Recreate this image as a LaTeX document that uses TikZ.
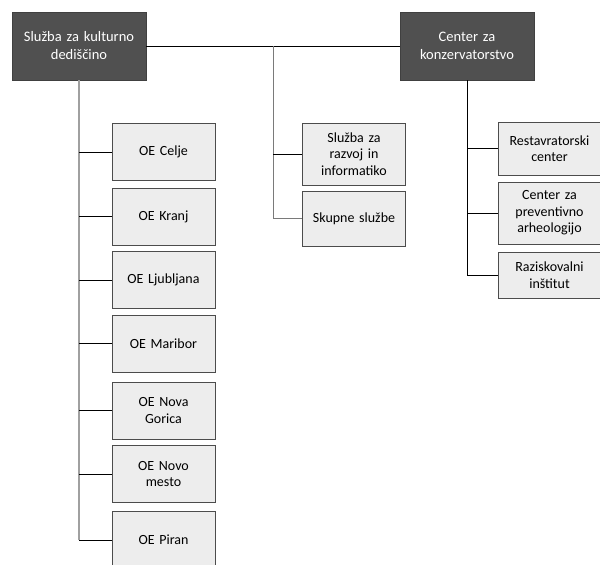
\documentclass[tikz,border=0pt]{standalone}
\usepackage{fontspec}
\setmainfont{Carlito}
\usepackage{xcolor}
\usepackage{tikz}
\usetikzlibrary{positioning,calc}
\definecolor{headfill}{HTML}{505050}
\definecolor{unitfill}{HTML}{EDEDED}
\definecolor{trunkgray}{HTML}{A0A0A0}
\definecolor{midgray}{HTML}{7A7A7A}

\begin{document}
\begin{tikzpicture}[x=1pt, y=-1pt,
    head/.style={draw=black!75, fill=headfill, text=white, text width=128pt, minimum height=68pt, inner sep=3pt, align=center, font=\fontsize{14.5}{18}\selectfont},
    unit/.style={draw=black!70, fill=unitfill, text width=97pt, minimum height=57pt, inner sep=3pt, align=center, font=\fontsize{14}{16.5}\selectfont},
    link/.style={line width=0.8pt, draw=black},
    trunk/.style={line width=1.2pt, draw=trunkgray}]
    \useasboundingbox (0,0) rectangle (600,565);

    % Heads
    \node [head] (skd) at (79,46) {Služba za kulturno\\dediščino};
    \node [head] (ck) at (467,46) {Center za\\konzervatorstvo};
    \coordinate (mid) at (273,46);

    % Regional units
    \node [unit] (celje) at (163.5,152) {OE Celje};
    \node [unit] (kranj) at (163.5,216.5) {OE Kranj};
    \node [unit] (ljubljana) at (163.5,280) {OE Ljubljana};
    \node [unit] (maribor) at (163.5,343.5) {OE Maribor};
    \node [unit] (novagorica) at (163.5,410.5) {OE Nova\\Gorica};
    \node [unit] (novomesto) at (163.5,474) {OE Novo\\mesto};
    \node [unit] (piran) at (163.5,540) {OE Piran};

    % Common services
    \node [unit, minimum height=62pt] (razvoj) at (354,154) {Služba za\\razvoj in\\informatiko};
    \node [unit, minimum height=55pt] (skupne) at (354,218.5) {Skupne službe};

    % Conservation centre
    \node [unit, minimum height=53pt] (restavr) at (549.5,148.5) {Restavratorski\\center};
    \node [unit, minimum height=62pt] (arheo) at (549.5,213) {Center za\\preventivno\\arheologijo};
    \node [unit, minimum height=46pt] (raziskov) at (549.5,275) {Raziskovalni\\inštitut};

    \draw [link] (skd.east) -- (ck.west);

    \draw [trunk] (skd.south) -- (skd.south |- piran.west);
    \foreach \n in {celje,kranj,ljubljana,maribor,novagorica,novomesto,piran}
        \draw [link] (skd.south |- \n.west) -- (\n.west);

    \draw [trunk, draw=midgray, line width=1pt] (mid) -- (mid |- skupne.west) -- (skupne.west);
    \draw [link] (mid |- razvoj.west) -- (razvoj.west);

    \draw [link] (ck.south) -- (ck.south |- raziskov.west);
    \foreach \n in {restavr,arheo,raziskov}
        \draw [link] (ck.south |- \n.west) -- (\n.west);
\end{tikzpicture}
\end{document}
